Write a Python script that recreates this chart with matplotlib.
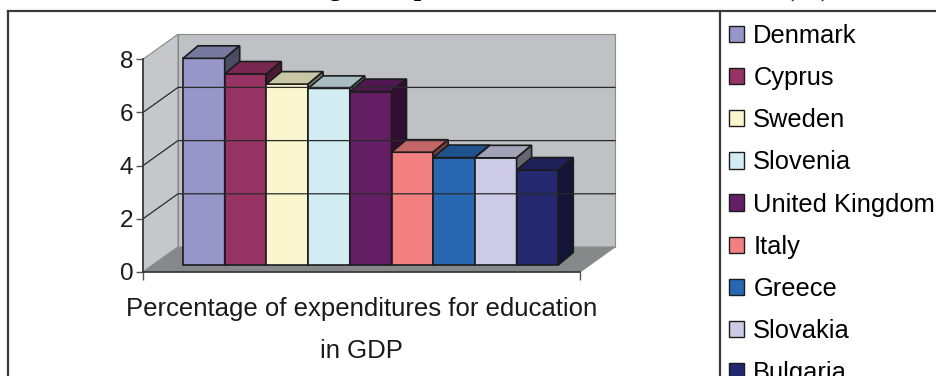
import numpy as np
import matplotlib
matplotlib.use("Agg")
import matplotlib.pyplot as plt
from matplotlib.patches import Polygon, Patch
from matplotlib.lines import Line2D

plt.rcParams['font.family'] = ['Liberation Sans', 'DejaVu Sans']

# data
countries = ['Denmark', 'Cyprus', 'Sweden', 'Slovenia', 'United Kingdom',
             'Italy', 'Greece', 'Slovakia', 'Bulgaria']
values = [7.77, 7.18, 6.80, 6.64, 6.52, 4.24, 4.04, 4.03, 3.57]
colors = ['#9696c8', '#963264', '#faf7ce', '#d2ecf3', '#641e64',
          '#f28080', '#2868b2', '#cdcae6', '#24286f']
yticks = [0, 2, 4, 6, 8]
category = 'Percentage of expenditures for education\nin GDP'
title = 'Percentage of expenditures for education in GDP (%)'

W, H = 936, 376
fig = plt.figure(figsize=(W / 100, H / 100), dpi=100, facecolor='white')

def fx(px):
    return px / W

def fy(py):
    return 1 - py / H

# outer frame of the original chart object
for xs, ys in [([8, W], [11, 11]), ([8, 8], [11, H]), ([720, 720], [11, H])]:
    fig.add_artist(Line2D([fx(x) for x in xs], [fy(y) for y in ys],
                          transform=fig.transFigure, color='#3a3a3a', lw=1.6))

# title sits above the crop; only its descenders reach into the picture
fig.text(fx(230), 1 + 4.0 / H, title, ha='left', va='baseline', fontsize=19,
         fontweight='bold', family=['Liberation Serif', 'DejaVu Serif'])

# scales: one category unit = 41.7 px, one value unit = 26.6 px
ux, uy = 41.7, 26.6
ax = fig.add_axes([fx(143), fy(272), 482 / W, 242 / H])
ax.set_xlim(0, 482 / ux)
ax.set_ylim(0, 242 / uy)
ax.patch.set_visible(False)

n = len(values)
DX, DV = 35 / ux, 25 / uy          # depth of the walls
off_x, off_v = 40 / ux, 7 / uy     # where the bars start
bdx, bdv = 15 / ux, 12.5 / uy      # depth of the bars
floor_w = 437 / ux
top = max(yticks)

wall_kw = dict(edgecolor='#8a8a8a', lw=0.8)
ax.add_patch(Polygon([(DX, DV), (floor_w + DX, DV), (floor_w + DX, DV + top), (DX, DV + top)],
                     facecolor='#c0c1c5', **wall_kw))
ax.add_patch(Polygon([(0, 0), (DX, DV), (DX, DV + top), (0, top)],
                     facecolor='#c6c7cb', **wall_kw))
ax.add_patch(Polygon([(0, 0), (floor_w, 0), (floor_w + DX, DV), (DX, DV)],
                     facecolor='#87888a', **wall_kw))
for v in yticks[1:-1]:
    ax.plot([0, DX, floor_w + DX], [v, DV + v, DV + v], color='#2a2a2a', lw=0.9)

def shade(c, f):
    r, g, b = matplotlib.colors.to_rgb(c)
    return (r * f, g * f, b * f)

edge = dict(edgecolor='#1c1c1c', lw=1.2, joinstyle='miter')
for i, (val, c) in enumerate(zip(values, colors)):
    x0, x1 = off_x + i, off_x + i + 1
    b, t = off_v, off_v + val
    ax.add_patch(Polygon([(x0, b), (x1, b), (x1, t), (x0, t)], facecolor=c, **edge))
    ax.add_patch(Polygon([(x0, t), (x1, t), (x1 + bdx, t + bdv), (x0 + bdx, t + bdv)],
                         facecolor=shade(c, 0.8), **edge))
    ax.add_patch(Polygon([(x1, b), (x1 + bdx, b + bdv), (x1 + bdx, t + bdv), (x1, t)],
                         facecolor=shade(c, 0.5), **edge))

# axes
for s in ['top', 'right']:
    ax.spines[s].set_visible(False)
ax.spines['left'].set_bounds(0, top)
ax.spines['bottom'].set_bounds(0, floor_w)
for s in ['left', 'bottom']:
    ax.spines[s].set_color('#3a3a3a')
    ax.spines[s].set_linewidth(1.3)
ax.set_yticks(yticks)
ax.set_xticks([0, floor_w])
ax.set_xticklabels([])
ax.tick_params(axis='y', labelsize=17.5, length=5, width=1, color='#555555',
               labelcolor='#1a1a1a', pad=2)
ax.tick_params(axis='x', length=6, width=1, color='#555555')
ax.set_xlabel(category, fontsize=18.5, color='#1a1a1a', linespacing=1.9)
ax.xaxis.set_label_coords((floor_w / 2) / (482 / ux), -0.105)
ax.xaxis.label.set_va('top')

handles = [Patch(facecolor=c, edgecolor='#1c1c1c', lw=1.0) for c in colors]
fig.legend(handles, countries, loc='upper left', bbox_to_anchor=(fx(729), fy(24)),
           frameon=False, fontsize=18.4, handlelength=0.6, handleheight=0.6,
           handletextpad=0.35, labelspacing=0.71, borderaxespad=0, borderpad=0)

fig.savefig('out.png', dpi=100)
